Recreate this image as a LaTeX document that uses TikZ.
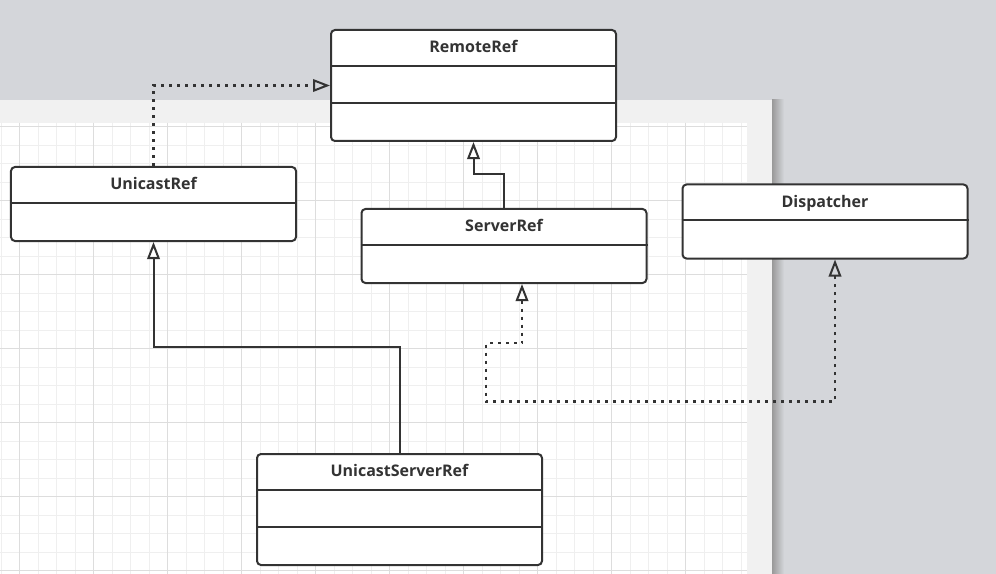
\documentclass[tikz,border=0pt]{standalone}
\usepackage{fontspec}
\setsansfont{Open Sans}
\usepackage{tikz}
\usetikzlibrary{arrows.meta, calc}

\definecolor{bggray}{HTML}{D4D6DA}
\definecolor{pagegray}{HTML}{F1F1F1}
\definecolor{gridminor}{HTML}{EFEFEF}
\definecolor{gridmajor}{HTML}{DDDDDD}
\definecolor{umlline}{HTML}{333333}

\tikzset{umltip/.tip={Triangle[open, length=3.4mm, width=2.5mm, line width=0.4mm]}}

\begin{document}
\begin{tikzpicture}[x=0.2mm, y=-0.2mm,
        classbox/.style={draw=umlline, line width=0.4mm, rounded corners=0.8mm, fill=white, minimum width=57mm, inner sep=0pt},
        classname/.style={anchor=base, font=\sffamily\bfseries\fontsize{9.1}{10}\selectfont, text=umlline},
        divider/.style={draw=umlline, line width=0.4mm},
        line/.style={draw=umlline, line width=0.4mm},
        inherit/.style={line, -umltip},
        realize/.style={line, line width=0.5mm, dash pattern=on 0.6mm off 1mm}
    ]
        % -- background, page and grid --
        \useasboundingbox (0,0) rectangle (996,574);
        \fill[bggray] (0,0) rectangle (996,574);
        \shade[left color=black!40, right color=bggray] (772,100) rectangle (784,574);
        \fill[pagegray] (0,100) rectangle (772,574);
        \fill[white] (0,123) rectangle (747,574);
        \foreach \gx in {1.2,19.7,...,747} \draw[gridminor, line width=0.2mm] (\gx,123) -- (\gx,574);
        \foreach \gy in {126.7,145.2,...,574} \draw[gridminor, line width=0.2mm] (0,\gy) -- (747,\gy);
        \foreach \gx in {19.7,93.7,...,747} \draw[gridmajor, line width=0.2mm] (\gx,123) -- (\gx,574);
        \foreach \gy in {126.7,200.7,...,574} \draw[gridmajor, line width=0.2mm] (0,\gy) -- (747,\gy);

        % -- classes --
        \node[classbox, minimum height=22.2mm] (remote)     at (473.5,85.5)  {};
        \node[classbox, minimum height=14.8mm] (unicast)    at (153.5,204)   {};
        \node[classbox, minimum height=14.8mm] (server)     at (504,246)     {};
        \node[classbox, minimum height=14.8mm] (dispatcher) at (825,221.5)   {};
        \node[classbox, minimum height=22.2mm] (ucserver)   at (399.5,509.5) {};

        % class names
        \node[classname] (remote-name)     at ($(remote.north)+(0,23.5)$)     {RemoteRef};
        \node[classname] (unicast-name)    at ($(unicast.north)+(0,23.5)$)    {UnicastRef};
        \node[classname] (server-name)     at ($(server.north)+(0,23.5)$)     {ServerRef};
        \node[classname] (dispatcher-name) at ($(dispatcher.north)+(0,23.5)$) {Dispatcher};
        \node[classname] (ucserver-name)   at ($(ucserver.north)+(0,23.5)$)   {UnicastServerRef};

        % compartment lines
        \foreach \cls in {remote, unicast, server, dispatcher, ucserver}
            \draw[divider] ($(\cls.north west)+(0,37)$) -- ($(\cls.north east)+(0,37)$);
        \foreach \cls in {remote, ucserver}
            \draw[divider] ($(\cls.north west)+(0,74)$) -- ($(\cls.north east)+(0,74)$);

        % generalisation (solid)
        \draw[inherit] (server.north) -- ++(0,-34) -| (remote.south);
        \draw[inherit] (ucserver.north) -- ++(0,-106) -| (unicast.south);

        % realisation (dotted)
        \draw[realize, -umltip] (unicast.north) |- (remote.west);
        \draw[realize, umltip-umltip] ($(server.south)+(18,0)$) -- ++(0,59) -- ++(-36,0)
            |- ($(dispatcher.south)+(10,142)$) -- ($(dispatcher.south)+(10,0)$);
    \end{tikzpicture}
\end{document}
